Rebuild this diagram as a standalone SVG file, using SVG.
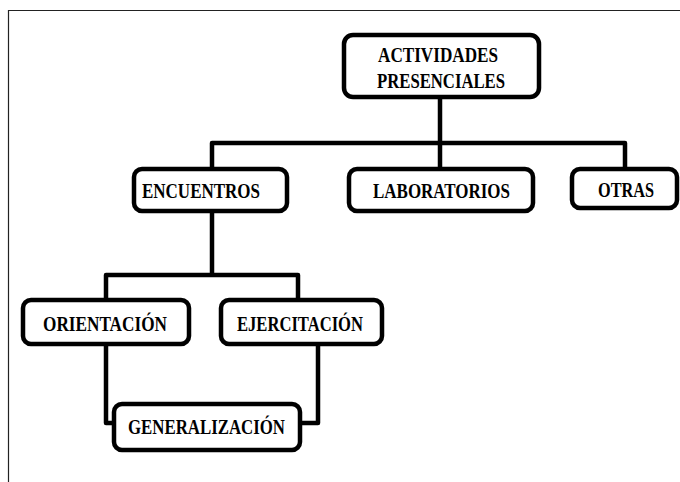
<svg xmlns="http://www.w3.org/2000/svg" width="680" height="482" viewBox="0 0 680 482">
<style>
.box{fill:#fff;stroke:#000;stroke-width:4.5}
.ln{fill:none;stroke:#000;stroke-width:4.5;stroke-linejoin:round}
.frame{fill:none;stroke:#222;stroke-width:1.2}
text{font-family:"Liberation Serif","Times New Roman",serif;font-weight:bold;font-size:22px;fill:#000}
</style>
<rect width="680" height="482" fill="#fff"/>
<path class="frame" d="M8.5,482 V10.5 H680"/>
<g id="connectors">
<path class="ln" d="M440,97 V143"/>
<path class="ln" d="M212,167 V143 H625 V167"/>
<path class="ln" d="M440,143 V167"/>
<path class="ln" d="M212,211 V275"/>
<path class="ln" d="M106,300 V275 H298 V300"/>
<path class="ln" d="M106,344 V423 H114"/>
<path class="ln" d="M318,344 V423 H300"/>
</g>
<g id="actividades">
<rect class="box" x="344" y="35" width="195" height="62" rx="9"/>
<text x="378" y="62" textLength="120" lengthAdjust="spacingAndGlyphs">ACTIVIDADES</text>
<text x="377" y="88" textLength="128" lengthAdjust="spacingAndGlyphs">PRESENCIALES</text>
</g>
<g id="encuentros">
<rect class="box" x="134" y="169" width="153" height="42" rx="8"/>
<text x="142" y="198" textLength="118" lengthAdjust="spacingAndGlyphs">ENCUENTROS</text>
</g>
<g id="laboratorios">
<rect class="box" x="349" y="169" width="184" height="42" rx="8"/>
<text x="373" y="198" textLength="137" lengthAdjust="spacingAndGlyphs">LABORATORIOS</text>
</g>
<g id="otras">
<rect class="box" x="572" y="169" width="105" height="39" rx="8"/>
<text x="598" y="197" textLength="56" lengthAdjust="spacingAndGlyphs">OTRAS</text>
</g>
<g id="orientacion">
<rect class="box" x="23" y="300" width="166" height="44" rx="8"/>
<text x="43" y="331" textLength="124" lengthAdjust="spacingAndGlyphs">ORIENTACIÓN</text>
</g>
<g id="ejercitacion">
<rect class="box" x="221" y="300" width="161" height="44" rx="8"/>
<text x="237" y="331" textLength="126" lengthAdjust="spacingAndGlyphs">EJERCITACIÓN</text>
</g>
<g id="generalizacion">
<rect class="box" x="114" y="404" width="186" height="46" rx="8"/>
<text x="128" y="434" textLength="157" lengthAdjust="spacingAndGlyphs">GENERALIZACIÓN</text>
</g>
</svg>
